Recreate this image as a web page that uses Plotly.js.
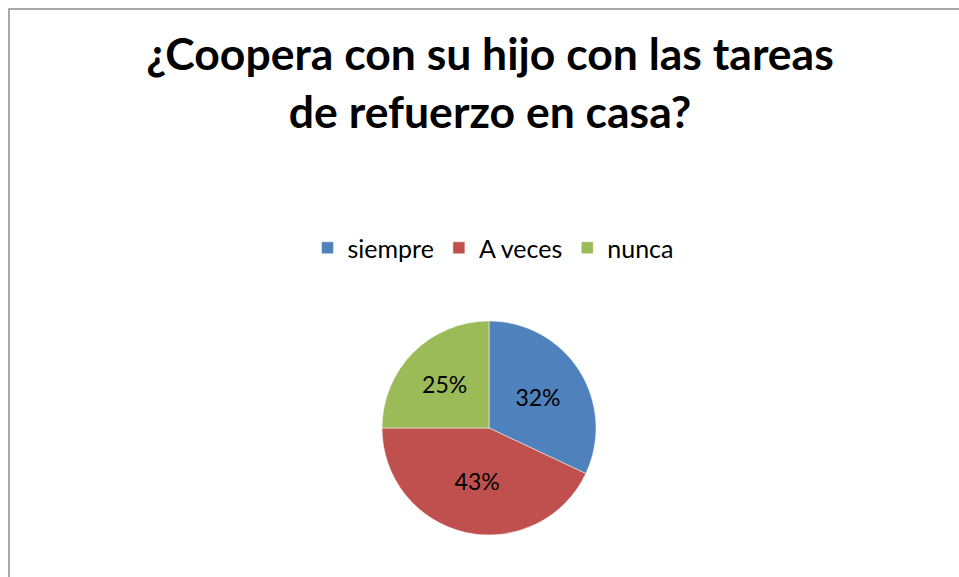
<!DOCTYPE html>
<html>
<head>
<meta charset="utf-8">
<script src="https://cdn.plot.ly/plotly-3.0.1.min.js"></script>
<style>html,body{margin:0;padding:0;background:#fff;}#chart{width:959px;height:577px;}</style>
</head>
<body>
<div id="chart"></div>
<script>
const categories = ["siempre", "A veces", "nunca"];
const percentages = [32, 43, 25];
const sliceColors = ["#4F81BD", "#C0504D", "#9BBB59"];
const chartTitle = "¿Coopera con su hijo con las tareas<br>de refuerzo en casa?";

const W = 959, H = 577;
const cx = 489, cy = 428, r = 107;

const trace = {
  type: "pie",
  labels: categories,
  values: percentages,
  sort: false,
  direction: "clockwise",
  rotation: 0,
  marker: {colors: sliceColors, line: {color: "#ffffff", width: 0.5}},
  textinfo: "percent",
  texttemplate: "%{value}%",
  textposition: "inside",
  insidetextorientation: "horizontal",
  textfont: {family: "Lato, 'Open Sans', sans-serif", size: 23, color: "#000000"},
  hoverinfo: "label+percent",
  domain: {x: [(cx - r) / W, (cx + r) / W], y: [(H - cy - r) / H, (H - cy + r) / H]}
};

const layout = {
  width: W, height: H,
  margin: {l: 0, r: 0, t: 0, b: 0},
  paper_bgcolor: "#ffffff",
  font: {family: "Lato, 'Open Sans', sans-serif", color: "#000000"},
  title: {
    text: "<b>" + chartTitle + "</b>",
    font: {family: "Lato, 'Open Sans', sans-serif", size: 44.5, color: "#000000"},
    x: 490 / W, xanchor: "center", xref: "paper",
    y: 1 - 70 / H, yanchor: "middle", yref: "container"
  },
  showlegend: true,
  legend: {
    orientation: "h",
    x: 493 / W, xanchor: "center",
    y: 1 - 248 / H, yanchor: "middle",
    font: {family: "Lato, 'Open Sans', sans-serif", size: 25, color: "#000000"},
    itemwidth: 30,
    traceorder: "normal"
  },
  shapes: [{
    type: "rect", xref: "paper", yref: "paper",
    x0: 9 / W, x1: 1.02, y0: -0.02, y1: 1 - 9 / H,
    line: {color: "#8c8c8c", width: 1.5}, fillcolor: "rgba(0,0,0,0)"
  }]
};

Plotly.newPlot("chart", [trace], layout, {displayModeBar: false, staticPlot: true});
</script>
</body>
</html>
